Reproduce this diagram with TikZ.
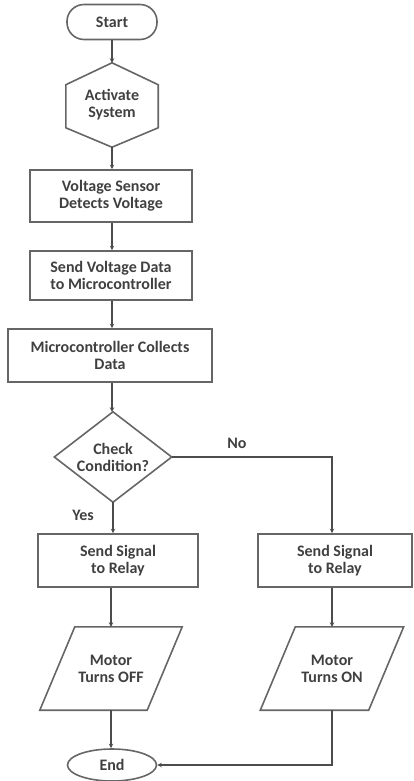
\documentclass[tikz,border=0pt]{standalone}
\usepackage{fontspec}
\setmainfont{Carlito}
\usetikzlibrary{calc,shapes.geometric,arrows.meta}

\begin{document}
\begin{tikzpicture}[x=1pt,y=-1pt,
    every node/.style={font=\bfseries\fontsize{16}{17}\selectfont, text=black!75, align=center, inner sep=0pt},
    shp/.style={draw=black!60, line width=1.6pt},
    proc/.style={shp, rectangle},
    conn/.style={draw=black!70, line width=1.6pt, -{Stealth[length=4.5pt,width=4.5pt]}}]
      \useasboundingbox (0,0) rectangle (414,781);

      \node[shp, rounded corners=17pt, minimum width=90pt, minimum height=35pt] (start) at (112,22) {Start};
      \node[minimum width=92pt, minimum height=84pt] (act) at (112,105) {Activate\\System};
      \draw[shp] (act.north) -- ($(act.north east)!0.26!(act.south east)$) -- ($(act.north east)!0.77!(act.south east)$)
        -- (act.south) -- ($(act.north west)!0.77!(act.south west)$) -- ($(act.north west)!0.26!(act.south west)$) -- cycle;
      \node[proc, minimum width=162pt, minimum height=52pt] (volt) at (111,196) {Voltage Sensor\\Detects Voltage};
      \node[proc, minimum width=162pt, minimum height=49pt] (send) at (111,275.5) {Send Voltage Data\\to Microcontroller};
      \node[proc, minimum width=204pt, minimum height=53pt] (micro) at (110,355.5) {Microcontroller Collects\\Data};
      \node[minimum width=117pt, minimum height=90pt] (cond) at (113,457) {Check\\Condition?};
      \draw[shp] (cond.north) -- (cond.east) -- (cond.south) -- (cond.west) -- cycle;
      \node[proc, minimum width=160pt, minimum height=53pt] (lrelay) at (118,560.5) {Send Signal\\to Relay};
      \node[proc, minimum width=154pt, minimum height=53pt] (rrelay) at (335,560.5) {Send Signal\\to Relay};
      \node[minimum width=142pt, minimum height=83pt] (off) at (111,668.5) {Motor\\Turns OFF};
      \draw[shp] (off.south west) -- ($(off.north west)+(35,0)$) -- (off.north east) -- ($(off.south east)-(35,0)$) -- cycle;
      \node[minimum width=143pt, minimum height=83pt] (on) at (332,668.5) {Motor\\Turns ON};
      \draw[shp] (on.south west) -- ($(on.north west)+(35,0)$) -- (on.north east) -- ($(on.south east)-(35,0)$) -- cycle;
      \node[shp, ellipse, minimum width=89pt, minimum height=32pt] (end) at (112,765) {End};

      \node (no) at (237,443) {No};
      \node (yes) at (83,515) {Yes};

      \draw[conn] (start) -- (act.north);
      \draw[conn] (act.south) -- (volt.north -| act.south);
      \draw[conn] (volt.south -| act.south) -- (send.north -| act.south);
      \draw[conn] (send.south -| act.south) -- (micro.north -| act.south);
      \draw[conn] (micro.south -| act.south) -- (cond.north -| act.south);
      \draw[conn] (cond.south) -- (cond.south |- lrelay.north);
      \draw[conn] (cond.east) -| (rrelay.north -| on.north);
      \draw[conn] (lrelay.south -| off.north) -- (off.north);
      \draw[conn] (rrelay.south -| on.north) -- (on.north);
      \draw[conn] (off.south) -- (off.south |- end.north);
      \draw[conn] (on.south) |- (end.east);
    \end{tikzpicture}
\end{document}
